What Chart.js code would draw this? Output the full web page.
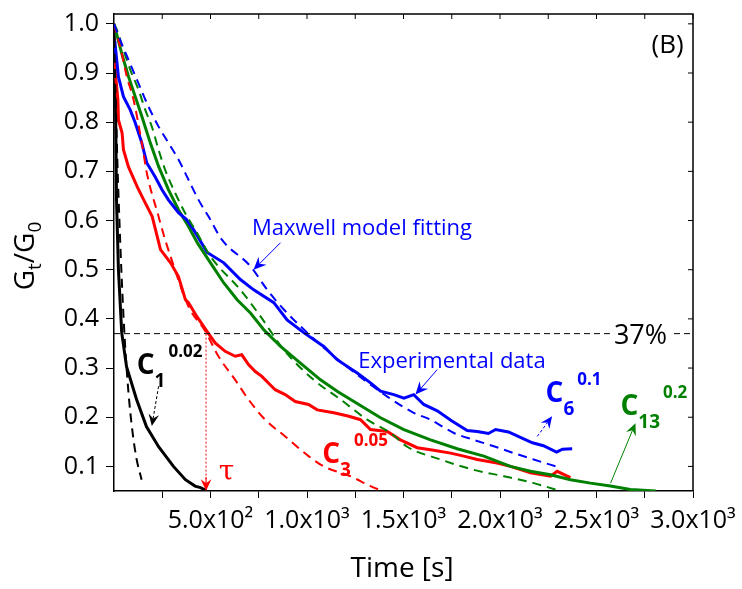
<!DOCTYPE html>
<html>
<head>
<meta charset="utf-8">
<script src="https://cdn.jsdelivr.net/npm/chart.js@4/dist/chart.umd.min.js"></script>
<style>
  html, body { margin: 0; padding: 0; background: #fff; }
  #wrap { width: 742px; height: 589px; }
</style>
</head>
<body>
<div id="wrap"><canvas id="relaxChart" width="742" height="589"></canvas></div>
<script>
// values (time in s, Gt/G0)
const c1Time = [0, 8, 13, 23, 40, 65, 117, 168, 231, 308, 370, 420, 448, 479];
const c1Exp  = [1.0, 0.846, 0.642, 0.5, 0.372, 0.303, 0.236, 0.181, 0.140, 0.100, 0.073, 0.060, 0.057, 0.051];
const c1FitTime = [0, 5, 12, 19, 28, 38, 54, 75, 96, 117, 143];
const c1Fit     = [1.0, 0.9, 0.8, 0.7, 0.6, 0.5, 0.37, 0.25, 0.17, 0.115, 0.073];

const c3Time = [0, 4, 9, 20, 23, 42, 49, 75, 120, 154, 198, 241, 293, 334, 370, 386, 429, 481, 524, 576, 628, 662, 697, 732, 766, 835, 887, 939, 1008, 1053, 1139, 1217, 1277, 1329, 1416, 1484, 1571, 1640, 1744, 1812, 1882, 1985, 2054, 2158, 2262, 2296, 2365];
const c3Exp  = [0.93, 0.917, 0.892, 0.846, 0.805, 0.778, 0.744, 0.709, 0.669, 0.642, 0.608, 0.541, 0.514, 0.486, 0.439, 0.433, 0.405, 0.375, 0.351, 0.334, 0.324, 0.327, 0.307, 0.293, 0.283, 0.256, 0.246, 0.232, 0.226, 0.215, 0.209, 0.202, 0.195, 0.175, 0.171, 0.154, 0.138, 0.134, 0.127, 0.121, 0.114, 0.107, 0.100, 0.087, 0.080, 0.090, 0.077];
const c3FitTime = [0, 40, 66, 101, 144, 170, 231, 265, 299, 386, 473, 541, 628, 697, 783, 887, 1008, 1087, 1225, 1329, 1396];
const c3Fit     = [1.0, 0.940, 0.893, 0.846, 0.758, 0.697, 0.608, 0.561, 0.520, 0.425, 0.375, 0.324, 0.276, 0.236, 0.195, 0.161, 0.121, 0.100, 0.080, 0.060, 0.049];

const c6Time = [0, 5, 23, 49, 84, 110, 144, 170, 213, 248, 282, 334, 376, 413, 483, 569, 655, 724, 828, 897, 983, 1087, 1156, 1260, 1329, 1381, 1450, 1502, 1553, 1605, 1675, 1749, 1830, 1882, 1940, 1977, 2044, 2117, 2168, 2225, 2293, 2324, 2374];
const c6Exp  = [0.965, 0.961, 0.892, 0.852, 0.825, 0.799, 0.758, 0.717, 0.689, 0.663, 0.642, 0.616, 0.602, 0.581, 0.535, 0.514, 0.480, 0.459, 0.433, 0.398, 0.372, 0.344, 0.317, 0.290, 0.270, 0.253, 0.246, 0.239, 0.246, 0.226, 0.213, 0.193, 0.173, 0.171, 0.167, 0.175, 0.170, 0.157, 0.148, 0.142, 0.129, 0.135, 0.136];
const c6FitTime = [0, 32, 75, 127, 170, 231, 282, 334, 386, 438, 490, 559, 707, 794, 880, 966, 1100, 1200, 1300, 1416, 1553, 1640, 1761, 1864, 1968, 2072, 2175, 2314];
const c6Fit     = [1.0, 0.967, 0.927, 0.879, 0.839, 0.791, 0.758, 0.724, 0.683, 0.642, 0.608, 0.561, 0.507, 0.459, 0.419, 0.385, 0.337, 0.305, 0.275, 0.242, 0.209, 0.195, 0.168, 0.154, 0.141, 0.127, 0.114, 0.097];

const c13Time = [0, 40, 75, 110, 144, 188, 231, 282, 334, 386, 433, 500, 569, 638, 707, 776, 863, 966, 1070, 1160, 1260, 1381, 1502, 1640, 1778, 1916, 2054, 2158, 2262, 2365, 2469, 2572, 2676, 2806];
const c13Exp  = [1.0, 0.940, 0.893, 0.852, 0.812, 0.758, 0.710, 0.663, 0.622, 0.588, 0.554, 0.514, 0.473, 0.439, 0.412, 0.378, 0.344, 0.310, 0.276, 0.252, 0.228, 0.199, 0.175, 0.154, 0.136, 0.121, 0.100, 0.090, 0.083, 0.073, 0.066, 0.060, 0.053, 0.050];
const c13FitTime = [0, 15, 49, 84, 127, 162, 196, 231, 265, 317, 369, 421, 500, 655, 759, 880, 1035, 1174, 1312, 1433, 1519, 1692, 1864, 2020, 2175, 2288];
const c13Fit     = [1.0, 0.988, 0.947, 0.907, 0.866, 0.825, 0.791, 0.744, 0.703, 0.656, 0.615, 0.581, 0.527, 0.459, 0.405, 0.337, 0.276, 0.236, 0.195, 0.168, 0.140, 0.114, 0.093, 0.080, 0.066, 0.053];

const level37 = 0.37;
const tauTime = 477;

const xTickValues = [250, 500, 750, 1000, 1250, 1500, 1750, 2000, 2250, 2500, 2750, 3000];
const xLabelValues = [500, 1000, 1500, 2000, 2500, 3000];
const xTickLabels = ['5.0x10\u00B2', '1.0x10\u00B3', '1.5x10\u00B3', '2.0x10\u00B3', '2.5x10\u00B3', '3.0x10\u00B3'];
const yTickValues = [0.1, 0.2, 0.3, 0.4, 0.5, 0.6, 0.7, 0.8, 0.9, 1.0];
const yTickLabels = ['0.1', '0.2', '0.3', '0.4', '0.5', '0.6', '0.7', '0.8', '0.9', '1.0'];

const FONT = '"Open Sans", "DejaVu Sans", sans-serif';
const BLUE = '#0000ff';
const RED = '#ff0000';
const GREEN = '#008000';

function pts(xs, ys) {
    return xs.map((x, i) => ({ x: x, y: ys[i] }));
}

function expSet(xs, ys, color) {
    return { data: pts(xs, ys), borderColor: color, borderWidth: 3, pointRadius: 0, showLine: true, tension: 0 };
}
function fitSet(xs, ys, color) {
    return { data: pts(xs, ys), borderColor: color, borderWidth: 2, borderDash: [9, 6], pointRadius: 0, showLine: true, cubicInterpolationMode: 'monotone' };
}

function arrow(ctx, x1, y1, x2, y2, color, width, dash, head) {
    ctx.save();
    ctx.strokeStyle = color;
    ctx.fillStyle = color;
    ctx.lineWidth = width;
    ctx.setLineDash(dash || []);
    const a = Math.atan2(y2 - y1, x2 - x1);
    ctx.beginPath();
    ctx.moveTo(x1, y1);
    ctx.lineTo(x2 - Math.cos(a) * head * 0.6, y2 - Math.sin(a) * head * 0.6);
    ctx.stroke();
    ctx.setLineDash([]);
    // barbed head
    ctx.beginPath();
    ctx.moveTo(x2, y2);
    ctx.lineTo(x2 - head * Math.cos(a - 0.42), y2 - head * Math.sin(a - 0.42));
    ctx.lineTo(x2 - head * 0.6 * Math.cos(a), y2 - head * 0.6 * Math.sin(a));
    ctx.lineTo(x2 - head * Math.cos(a + 0.42), y2 - head * Math.sin(a + 0.42));
    ctx.closePath();
    ctx.fill();
    ctx.restore();
}

function cLabel(ctx, x, y, sub, sup, color) {
    ctx.fillStyle = color;
    ctx.textAlign = 'left';
    ctx.textBaseline = 'alphabetic';
    ctx.font = 'bold 28px ' + FONT;
    ctx.fillText('C', x, y);
    const cw = ctx.measureText('C').width;
    ctx.font = 'bold 19px ' + FONT;
    ctx.fillText(sub, x + cw, y + 13);
    const sw = ctx.measureText(sub).width;
    ctx.font = 'bold 17px ' + FONT;
    ctx.fillText(sup, x + Math.max(cw + 10, cw + sw + 3), y - 17);
}

const extras = {
    id: 'extras',
    afterDatasetsDraw(chart) {
        const ctx = chart.ctx;
        const xs = chart.scales.x, ys = chart.scales.y;
        const X = v => xs.getPixelForValue(v), Y = v => ys.getPixelForValue(v);
        const area = chart.chartArea;

        ctx.save();
        // top and right frame with inward ticks
        ctx.strokeStyle = '#000';
        ctx.lineWidth = 1.5;
        ctx.beginPath();
        ctx.moveTo(area.left, area.top);
        ctx.lineTo(area.right, area.top);
        ctx.lineTo(area.right, area.bottom);
        ctx.stroke();
        ctx.lineWidth = 1;
        ctx.beginPath();
        xTickValues.forEach(v => { ctx.moveTo(X(v), area.top); ctx.lineTo(X(v), area.top + 5); });
        yTickValues.forEach(v => { ctx.moveTo(area.right, Y(v)); ctx.lineTo(area.right - 5, Y(v)); });
        ctx.stroke();

        // 37% label over the dashed level line
        ctx.font = '27px ' + FONT;
        ctx.textAlign = 'center';
        ctx.textBaseline = 'alphabetic';
        const w37 = ctx.measureText('37%').width;
        ctx.fillStyle = '#fff';
        ctx.fillRect(X(2728) - w37 / 2 - 4, Y(level37) - 6, w37 + 8, 12);
        ctx.fillStyle = '#000';
        ctx.fillText('37%', X(2728), Y(0.348));

        // (B)
        ctx.font = '26px ' + FONT;
        ctx.fillText('(B)', X(2868), Y(0.941));

        // blue notes
        ctx.fillStyle = BLUE;
        ctx.font = '22px ' + FONT;
        ctx.fillText('Maxwell model fitting', X(1285), Y(0.571));
        ctx.fillText('Experimental data', X(1751), Y(0.301));

        // tau
        ctx.fillStyle = RED;
        ctx.font = '28px "DejaVu Serif", serif';
        ctx.fillText('\u03C4', X(583), Y(0.073));

        // tau marker line
        ctx.save();
        ctx.strokeStyle = RED;
        ctx.lineWidth = 1;
        ctx.setLineDash([2, 2]);
        ctx.beginPath();
        ctx.moveTo(X(tauTime), Y(level37));
        ctx.lineTo(X(tauTime), area.bottom - 6);
        ctx.stroke();
        ctx.restore();
        arrow(ctx, X(tauTime), area.bottom - 14, X(tauTime), area.bottom, RED, 1, [], 13);

        // arrows to curves
        arrow(ctx, X(863), Y(0.555), X(723), Y(0.500), BLUE, 1, [], 14);
        arrow(ctx, X(1675), Y(0.297), X(1562), Y(0.246), BLUE, 1, [], 14);
        arrow(ctx, X(2193), Y(0.161), X(2270), Y(0.202), BLUE, 1, [3, 2], 13);
        arrow(ctx, X(2573), Y(0.066), X(2702), Y(0.188), GREEN, 1, [], 13);
        arrow(ctx, X(231), Y(0.263), X(196), Y(0.182), '#000', 1, [3, 2], 13);

        // series labels
        cLabel(ctx, X(118), Y(0.287), '1', '0.02', '#000');
        cLabel(ctx, X(1079), Y(0.107), '3', '0.05', RED);
        cLabel(ctx, X(2236), Y(0.230), '6', '0.1', BLUE);
        cLabel(ctx, X(2624), Y(0.205), '13', '0.2', GREEN);

        // axis titles
        ctx.fillStyle = '#000';
        ctx.textAlign = 'center';
        ctx.font = '28px ' + FONT;
        ctx.fillText('Time [s]', 402, 577);

        ctx.translate(34, 256);
        ctx.rotate(-Math.PI / 2);
        ctx.textAlign = 'left';
        const parts = [['G', 28, 0], ['t', 19, 7], ['/G', 28, 0], ['0', 19, 7]];
        let total = 0;
        parts.forEach(p => { ctx.font = p[1] + 'px ' + FONT; total += ctx.measureText(p[0]).width; });
        let cx = -total / 2;
        parts.forEach(p => {
            ctx.font = p[1] + 'px ' + FONT;
            ctx.fillText(p[0], cx, p[2]);
            cx += ctx.measureText(p[0]).width;
        });
        ctx.restore();
    }
};

const ctx = document.getElementById('relaxChart').getContext('2d');
const chart = new Chart(ctx, {
    type: 'scatter',
    data: {
        datasets: [
            { data: pts([0, 3000], [level37, level37]), borderColor: '#000', borderWidth: 1, borderDash: [6, 4], pointRadius: 0, showLine: true },
            fitSet(c6FitTime, c6Fit, BLUE),
            fitSet(c13FitTime, c13Fit, GREEN),
            fitSet(c3FitTime, c3Fit, RED),
            fitSet(c1FitTime, c1Fit, '#000'),
            expSet(c6Time, c6Exp, BLUE),
            expSet(c13Time, c13Exp, GREEN),
            expSet(c3Time, c3Exp, RED),
            expSet(c1Time, c1Exp, '#000')
        ]
    },
    options: {
        responsive: false,
        animation: false,
        layout: { padding: { top: 14, right: 49, left: 0, bottom: 0 } },
        plugins: { legend: { display: false }, tooltip: { enabled: false } },
        scales: {
            x: {
                type: 'linear',
                min: 0,
                max: 3000,
                afterBuildTicks: ax => { ax.ticks = xTickValues.map(v => ({ value: v })); },
                afterFit: ax => { ax.height = 98; ax.paddingLeft = 0; ax.paddingRight = 0; },
                ticks: {
                    autoSkip: false,
                    maxRotation: 0,
                    minRotation: 0,
                    padding: 8,
                    color: '#000',
                    font: { family: FONT, size: 25 },
                    callback: v => {
                        const i = xLabelValues.indexOf(v);
                        return i >= 0 ? xTickLabels[i] : '';
                    }
                },
                grid: { drawOnChartArea: false, tickLength: 7, color: '#000', lineWidth: 1 },
                border: { color: '#000', width: 1.5 }
            },
            y: {
                type: 'linear',
                min: 0.05,
                max: 1.02,
                afterBuildTicks: ax => { ax.ticks = yTickValues.map(v => ({ value: v })); },
                afterFit: ax => { ax.width = 114; ax.paddingTop = 0; ax.paddingBottom = 0; },
                ticks: {
                    padding: 7,
                    color: '#000',
                    font: { family: FONT, size: 25 },
                    callback: v => {
                        const i = yTickValues.findIndex(t => Math.abs(t - v) < 1e-6);
                        return i >= 0 ? yTickLabels[i] : '';
                    }
                },
                grid: { drawOnChartArea: false, tickLength: 8, color: '#000', lineWidth: 1 },
                border: { color: '#000', width: 1.5 }
            }
        }
    },
    plugins: [extras]
});
</script>
</body>
</html>
